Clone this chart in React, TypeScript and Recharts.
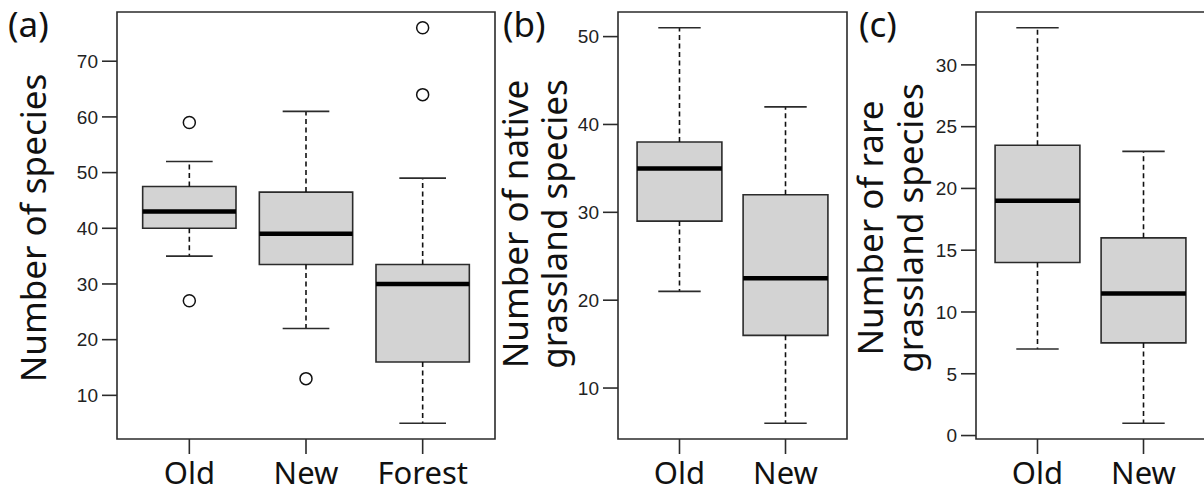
import { ComposedChart, XAxis, YAxis, Scatter, ReferenceArea, ReferenceLine } from "recharts";

// (a) all species
const groupsA = ["Old", "New", "Forest"];
const allLow = [35, 22, 5];
const allQ1 = [40, 33.5, 16];
const allMedian = [43, 39, 30];
const allQ3 = [47.5, 46.5, 33.5];
const allHigh = [52, 61, 49];
const allOutliers = [[59, 27], [13], [76, 64]];
const allTicks = [10, 20, 30, 40, 50, 60, 70];

// (b) native grassland species
const groupsB = ["Old", "New"];
const nativeLow = [21, 6];
const nativeQ1 = [29, 16];
const nativeMedian = [35, 22.5];
const nativeQ3 = [38, 32];
const nativeHigh = [51, 42];
const nativeOutliers: number[][] = [[], []];
const nativeTicks = [10, 20, 30, 40, 50];

// (c) rare grassland species
const groupsC = ["Old", "New"];
const rareLow = [7, 1];
const rareQ1 = [14, 7.5];
const rareMedian = [19, 11.5];
const rareQ3 = [23.5, 16];
const rareHigh = [33, 23];
const rareOutliers: number[][] = [[], []];
const rareTicks = [0, 5, 10, 15, 20, 25, 30];

const INK = "#2b2b2b";
const H = 495;

interface PanelProps {
  left: number;
  width: number;
  plotLeft: number;
  plotRight: number;
  groups: string[];
  low: number[];
  q1: number[];
  median: number[];
  q3: number[];
  high: number[];
  outliers: number[][];
  yTicks: number[];
  letter: string;
  letterX: number;
  titleLines: string[];
  titleXs: number[];
  titleY: number;
}

function BoxPanel(p: PanelProps) {
  const n = p.groups.length;
  const all = [...p.low, ...p.high, ...p.outliers.flat()];
  const lo = Math.min(...all);
  const hi = Math.max(...all);
  const pad = (hi - lo) * 0.04;
  const yDomain = [lo - pad, hi + pad];
  const xDomain = [0.5 - 0.04 * n, n + 0.5 + 0.04 * n];
  const points = p.outliers.flatMap((vals, i) => vals.map((v) => ({ x: i + 1, y: v })));

  const title = (props: any) => {
    const vb = props.viewBox || { x: 0 };
    const x0 = vb.x ?? 0;
    return (
      <g>
        <text x={x0 + p.letterX} y={37} fontSize={35} fontFamily="Noto Sans" fill="#111">
          {p.letter}
        </text>
        {p.titleLines.map((t, k) => (
          <text
            key={k}
            x={x0 + p.titleXs[k]}
            y={p.titleY}
            transform={`rotate(-90 ${x0 + p.titleXs[k]} ${p.titleY})`}
            textAnchor="middle"
            fontSize={35}
            fontFamily="Noto Sans"
            fill="#111"
          >
            {t}
          </text>
        ))}
      </g>
    );
  };

  return (
    <div style={{ position: "absolute", left: p.left, top: 0 }}>
      <ComposedChart
        width={p.width}
        height={H}
        margin={{ top: 12, right: p.left + p.width - p.plotRight, left: 0, bottom: 6 }}
      >
        <XAxis
          type="number"
          dataKey="x"
          domain={xDomain}
          ticks={p.groups.map((_, i) => i + 1)}
          tickFormatter={(v: number) => p.groups[v - 1] ?? ""}
          interval={0}
          allowDataOverflow
          axisLine={false}
          tickLine={{ stroke: INK, strokeWidth: 1.6 }}
          tickSize={15}
          tickMargin={8}
          height={50}
          tick={{ fontSize: 31, fontFamily: "Noto Sans", fill: "#111" }}
        />
        <YAxis
          type="number"
          dataKey="y"
          domain={yDomain}
          ticks={p.yTicks}
          interval={0}
          allowDataOverflow
          axisLine={false}
          tickLine={{ stroke: INK, strokeWidth: 1.6 }}
          tickSize={15}
          tickMargin={4}
          width={p.plotLeft - p.left}
          tick={{ fontSize: 19, fontFamily: "Liberation Sans", fill: "#222" }}
          label={{ content: title }}
        />
        {p.groups.map((g, i) => (
          <ReferenceLine
            key={`wu${g}`}
            segment={[{ x: i + 1, y: p.q3[i] }, { x: i + 1, y: p.high[i] }]}
            stroke="#111"
            strokeWidth={1.6}
            strokeDasharray="5 3.5"
          />
        ))}
        {p.groups.map((g, i) => (
          <ReferenceLine
            key={`wl${g}`}
            segment={[{ x: i + 1, y: p.q1[i] }, { x: i + 1, y: p.low[i] }]}
            stroke="#111"
            strokeWidth={1.6}
            strokeDasharray="5 3.5"
          />
        ))}
        {p.groups.map((g, i) => (
          <ReferenceLine
            key={`cu${g}`}
            segment={[{ x: i + 0.8, y: p.high[i] }, { x: i + 1.2, y: p.high[i] }]}
            stroke={INK}
            strokeWidth={1.6}
          />
        ))}
        {p.groups.map((g, i) => (
          <ReferenceLine
            key={`cl${g}`}
            segment={[{ x: i + 0.8, y: p.low[i] }, { x: i + 1.2, y: p.low[i] }]}
            stroke={INK}
            strokeWidth={1.6}
          />
        ))}
        {p.groups.map((g, i) => (
          <ReferenceArea
            key={`b${g}`}
            x1={i + 0.6}
            x2={i + 1.4}
            y1={p.q1[i]}
            y2={p.q3[i]}
            fill="#d3d3d3"
            fillOpacity={1}
            stroke={INK}
            strokeWidth={1.6}
          />
        ))}
        {p.groups.map((g, i) => (
          <ReferenceLine
            key={`m${g}`}
            segment={[{ x: i + 0.6, y: p.median[i] }, { x: i + 1.4, y: p.median[i] }]}
            stroke="#000"
            strokeWidth={4.5}
          />
        ))}
        <ReferenceArea
          x1={xDomain[0]}
          x2={xDomain[1]}
          y1={yDomain[0]}
          y2={yDomain[1]}
          fill="none"
          stroke={INK}
          strokeWidth={1.6}
          ifOverflow="visible"
        />
        <Scatter
          data={points}
          dataKey="y"
          isAnimationActive={false}
          shape={(s: any) => (
            <circle cx={s.cx} cy={s.cy} r={6} fill="#fff" stroke="#111" strokeWidth={1.5} />
          )}
        />
      </ComposedChart>
    </div>
  );
}

export default function App() {
  return (
    <div
      style={{
        position: "absolute",
        left: 0,
        top: 0,
        width: 1204,
        height: H,
        overflow: "hidden",
        background: "#fff",
      }}
    >
      <BoxPanel
        left={0}
        width={500}
        plotLeft={117}
        plotRight={495}
        groups={groupsA}
        low={allLow}
        q1={allQ1}
        median={allMedian}
        q3={allQ3}
        high={allHigh}
        outliers={allOutliers}
        yTicks={allTicks}
        letter="(a)"
        letterX={8}
        titleLines={["Number of species"]}
        titleXs={[46]}
        titleY={228}
      />
      <BoxPanel
        left={480}
        width={370}
        plotLeft={618}
        plotRight={847}
        groups={groupsB}
        low={nativeLow}
        q1={nativeQ1}
        median={nativeMedian}
        q3={nativeQ3}
        high={nativeHigh}
        outliers={nativeOutliers}
        yTicks={nativeTicks}
        letter="(b)"
        letterX={23}
        titleLines={["Number of native", "grassland species"]}
        titleXs={[48, 87]}
        titleY={224}
      />
      <BoxPanel
        left={840}
        width={366}
        plotLeft={976}
        plotRight={1205}
        groups={groupsC}
        low={rareLow}
        q1={rareQ1}
        median={rareMedian}
        q3={rareQ3}
        high={rareHigh}
        outliers={rareOutliers}
        yTicks={rareTicks}
        letter="(c)"
        letterX={19}
        titleLines={["Number of rare", "grassland species"]}
        titleXs={[43, 83]}
        titleY={228}
      />
    </div>
  );
}
